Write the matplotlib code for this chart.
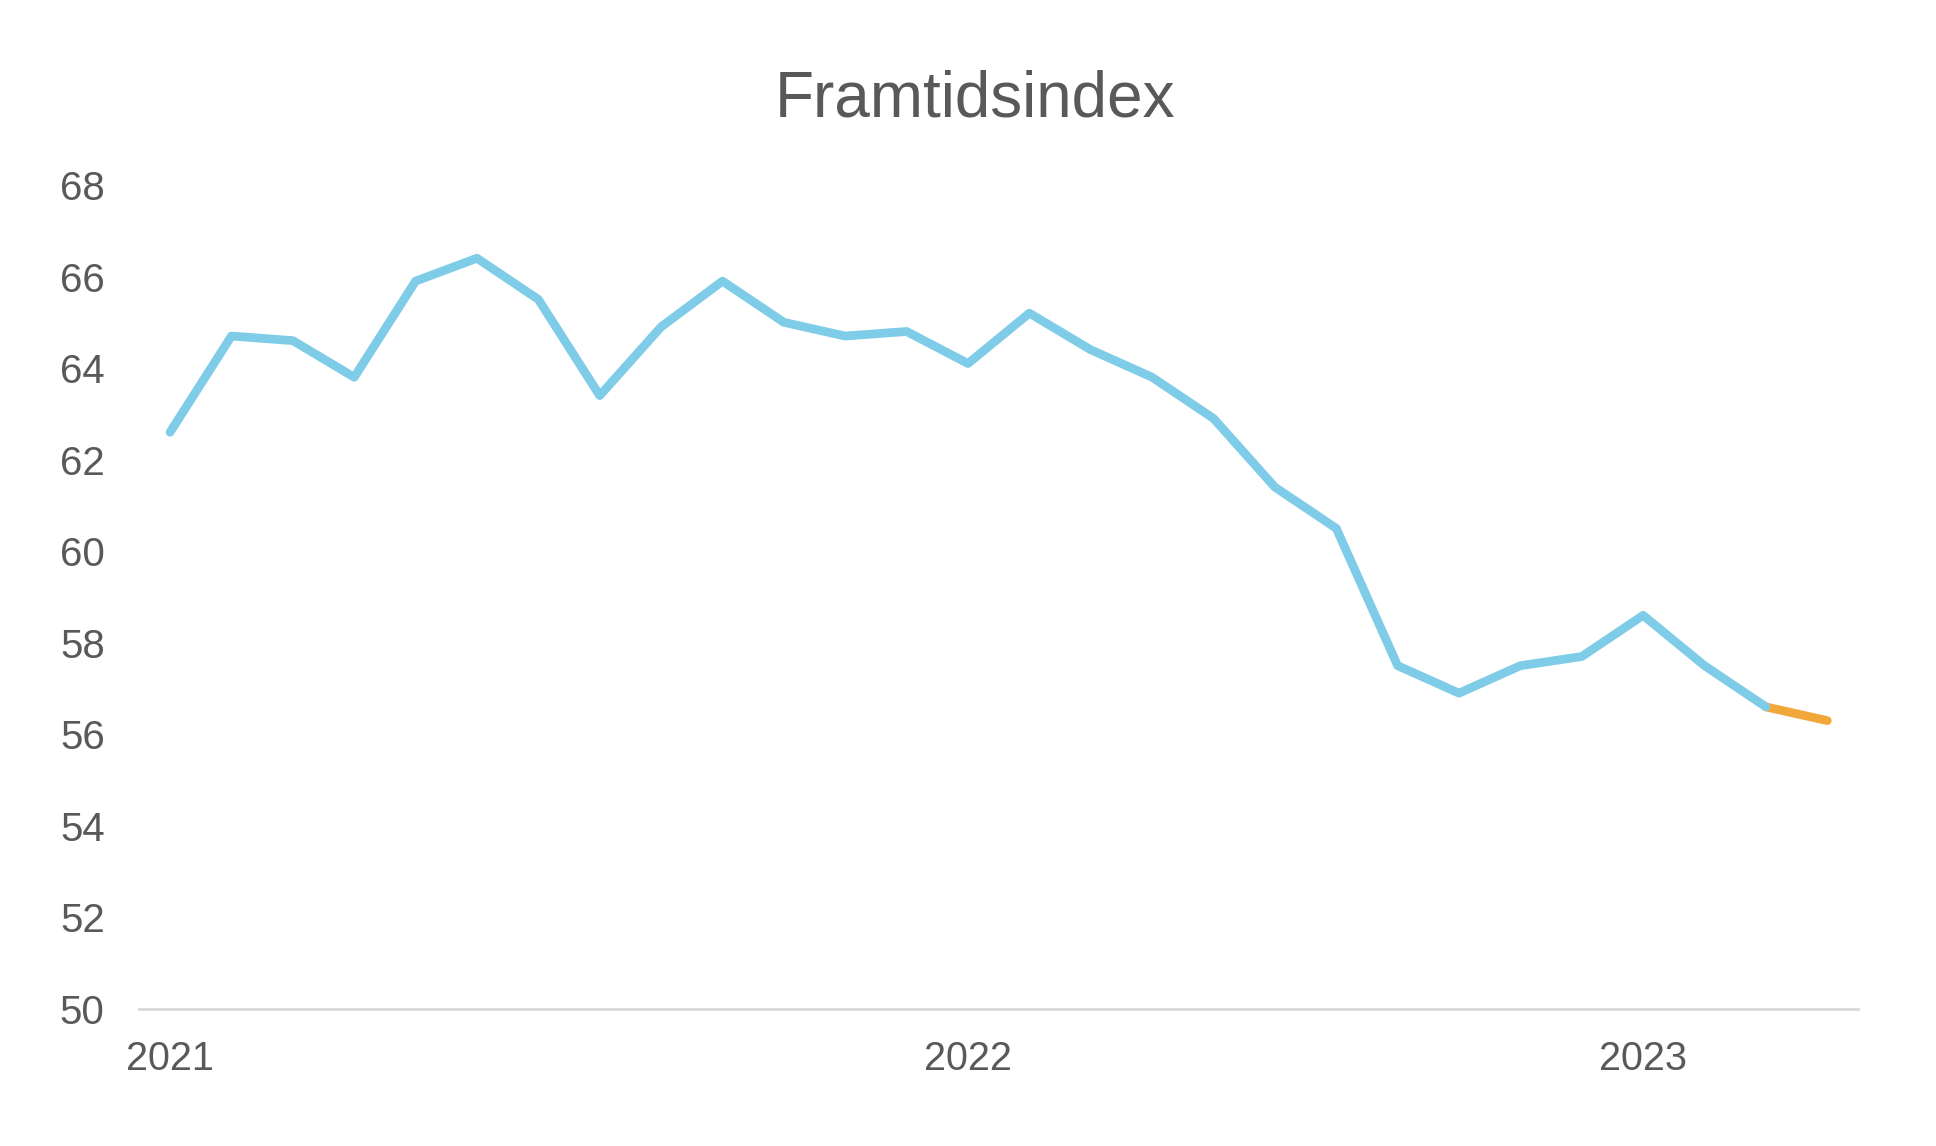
import numpy as np
import matplotlib.pyplot as plt

plt.rcParams['font.family'] = ['Liberation Sans', 'DejaVu Sans']

# Framtidsindex, monthly values
values = [62.6, 64.7, 64.6, 63.8, 65.9, 66.4, 65.5, 63.4, 64.9, 65.9,
          65.0, 64.7, 64.8, 64.1, 65.2, 64.4, 63.8, 62.9, 61.4, 60.5,
          57.5, 56.9, 57.5, 57.7, 58.6, 57.5, 56.6, 56.3]
# last segment (forecast) drawn in orange, starting from this index
forecast_start = 26
year_ticks = [0, 13, 24]
year_labels = ["2021", "2022", "2023"]

text_col = '#595959'
blue = '#7ECCE7'
orange = '#F2A73B'

x = np.arange(len(values))

fig = plt.figure(figsize=(19.36, 11.46), dpi=100)
ax = fig.add_axes([0.072, 0.1195, 0.8877, 0.7191])

ax.plot(x[forecast_start:], values[forecast_start:], color=orange, lw=6.3,
        solid_capstyle='round', solid_joinstyle='round', zorder=2)
ax.plot(x[:forecast_start + 1], values[:forecast_start + 1], color=blue, lw=6.3,
        solid_capstyle='round', solid_joinstyle='round', zorder=3)

ax.set_xlim(-0.5, len(values) - 0.5)
ax.set_ylim(50, 68)
ax.set_yticks(range(50, 69, 2))
ax.set_xticks(year_ticks)
ax.set_xticklabels(year_labels)

for s in ['top', 'right', 'left']:
    ax.spines[s].set_visible(False)
ax.spines['bottom'].set_color('#D9D9D9')
ax.spines['bottom'].set_linewidth(2)

ax.tick_params(axis='y', length=0, pad=25, labelsize=29, labelcolor=text_col)
ax.tick_params(axis='x', length=0, pad=22, labelsize=28.5, labelcolor=text_col)

fig.text(0.5036, 0.898, "Framtidsindex", ha='center', va='baseline',
         fontsize=46, color=text_col)

fig.savefig('out.png', dpi=100, facecolor='white')
